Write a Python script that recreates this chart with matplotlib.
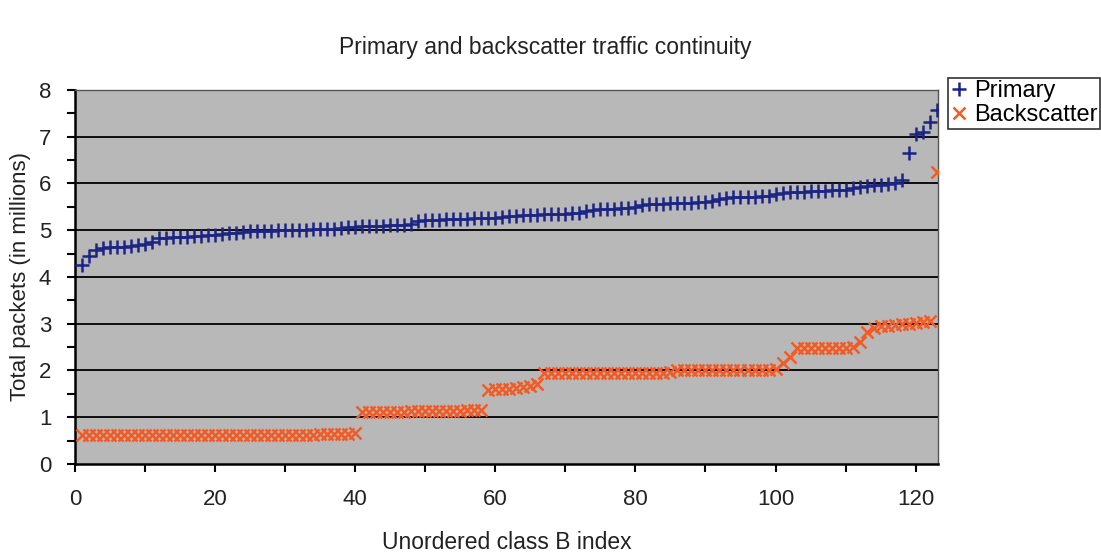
import matplotlib.pyplot as plt
import numpy as np
from matplotlib.ticker import MultipleLocator

plt.rcParams['font.family'] = ['Liberation Sans', 'DejaVu Sans']

# packet totals (millions) per class B network, sorted
primary = [
    4.26, 4.45, 4.58, 4.62, 4.63, 4.64, 4.65, 4.67, 4.69, 4.71,
    4.74, 4.83, 4.84, 4.85, 4.85, 4.86, 4.87, 4.88, 4.89, 4.90,
    4.91, 4.93, 4.95, 4.97, 4.98, 4.98, 4.99, 4.99, 5.00, 5.00,
    5.00, 5.01, 5.01, 5.02, 5.02, 5.03, 5.03, 5.04, 5.06, 5.07,
    5.08, 5.09, 5.10, 5.10, 5.11, 5.11, 5.12, 5.13, 5.19, 5.21,
    5.22, 5.22, 5.23, 5.23, 5.24, 5.24, 5.25, 5.25, 5.26, 5.27,
    5.28, 5.30, 5.31, 5.32, 5.33, 5.33, 5.34, 5.34, 5.35, 5.35,
    5.36, 5.37, 5.42, 5.44, 5.45, 5.45, 5.46, 5.47, 5.48, 5.49,
    5.53, 5.55, 5.56, 5.57, 5.58, 5.58, 5.59, 5.59, 5.60, 5.61,
    5.62, 5.66, 5.69, 5.70, 5.71, 5.72, 5.72, 5.73, 5.74, 5.78,
    5.80, 5.81, 5.82, 5.82, 5.83, 5.83, 5.84, 5.85, 5.86, 5.87,
    5.91, 5.93, 5.95, 5.96, 5.97, 5.98, 6.00, 6.08, 6.66, 7.05,
    7.10, 7.32, 7.56,
]
backscatter = [
    0.63, 0.63, 0.63, 0.63, 0.63, 0.63, 0.63, 0.63, 0.63, 0.63,
    0.63, 0.63, 0.63, 0.63, 0.63, 0.63, 0.63, 0.63, 0.63, 0.63,
    0.63, 0.63, 0.63, 0.63, 0.63, 0.63, 0.63, 0.63, 0.63, 0.63,
    0.63, 0.63, 0.63, 0.63, 0.64, 0.64, 0.64, 0.65, 0.65, 0.66,
    1.12, 1.12, 1.12, 1.12, 1.12, 1.12, 1.12, 1.13, 1.13, 1.13,
    1.13, 1.13, 1.13, 1.14, 1.14, 1.15, 1.16, 1.16, 1.59, 1.60,
    1.60, 1.61, 1.63, 1.64, 1.66, 1.70, 1.95, 1.95, 1.95, 1.95,
    1.95, 1.95, 1.95, 1.95, 1.95, 1.95, 1.95, 1.95, 1.95, 1.95,
    1.95, 1.95, 1.95, 1.95, 1.96, 2.02, 2.02, 2.02, 2.02, 2.02,
    2.02, 2.02, 2.02, 2.02, 2.02, 2.02, 2.02, 2.02, 2.02, 2.03,
    2.15, 2.28, 2.47, 2.48, 2.48, 2.48, 2.48, 2.48, 2.49, 2.49,
    2.50, 2.60, 2.82, 2.90, 2.95, 2.96, 2.98, 2.99, 3.00, 3.02,
    3.03, 3.05, 6.25,
]
idx = np.arange(1, len(primary) + 1)

fig = plt.figure(figsize=(11.01, 5.55), dpi=100)
ax = fig.add_axes([0.0681, 0.164, 0.7839, 0.674])
ax.set_facecolor('#b8b8b8')

for y in range(1, 8):
    ax.axhline(y, color='black', lw=1.3, zorder=1)

ax.plot(idx, primary, ls='none', marker='+', ms=10, mew=1.8,
        color='#1c2485', label='Primary', zorder=3)
ax.plot(idx, backscatter, ls='none', marker='x', ms=8.5, mew=1.8,
        color='#f55a22', label='Backscatter', zorder=3)

ax.set_xlim(0, 123.2)
ax.set_ylim(0, 8)
ax.xaxis.set_major_locator(MultipleLocator(20))
ax.xaxis.set_minor_locator(MultipleLocator(10))
ax.yaxis.set_major_locator(MultipleLocator(1))
ax.yaxis.set_minor_locator(MultipleLocator(0.5))
ax.tick_params(which='both', direction='out', length=6, width=1.5,
               color='black', labelsize=16, labelcolor='#222222')
ax.tick_params(axis='x', pad=12)
ax.tick_params(axis='y', pad=11)

for side in ('left', 'bottom'):
    ax.spines[side].set_linewidth(1.8)
for side in ('top', 'right'):
    ax.spines[side].set_color('#555555')
    ax.spines[side].set_linewidth(1.0)

ax.set_xlabel('Unordered class B index', fontsize=16.5, labelpad=15,
              color='#222222')
ax.set_ylabel('Total packets (in millions)', fontsize=16, labelpad=6,
              color='#222222')
fig.text(0.495, 0.915, 'Primary and backscatter traffic continuity',
         ha='center', va='center', fontsize=16.5, color='#222222')

leg = fig.legend(loc='upper left', bbox_to_anchor=(0.861, 0.86),
                 fontsize=17, frameon=True, fancybox=False,
                 handlelength=0.7, handletextpad=0.3, borderpad=0.1,
                 labelspacing=0.1, borderaxespad=0)
leg.get_frame().set_edgecolor('black')
leg.get_frame().set_linewidth(1.2)

fig.savefig('out.png', dpi=100)
